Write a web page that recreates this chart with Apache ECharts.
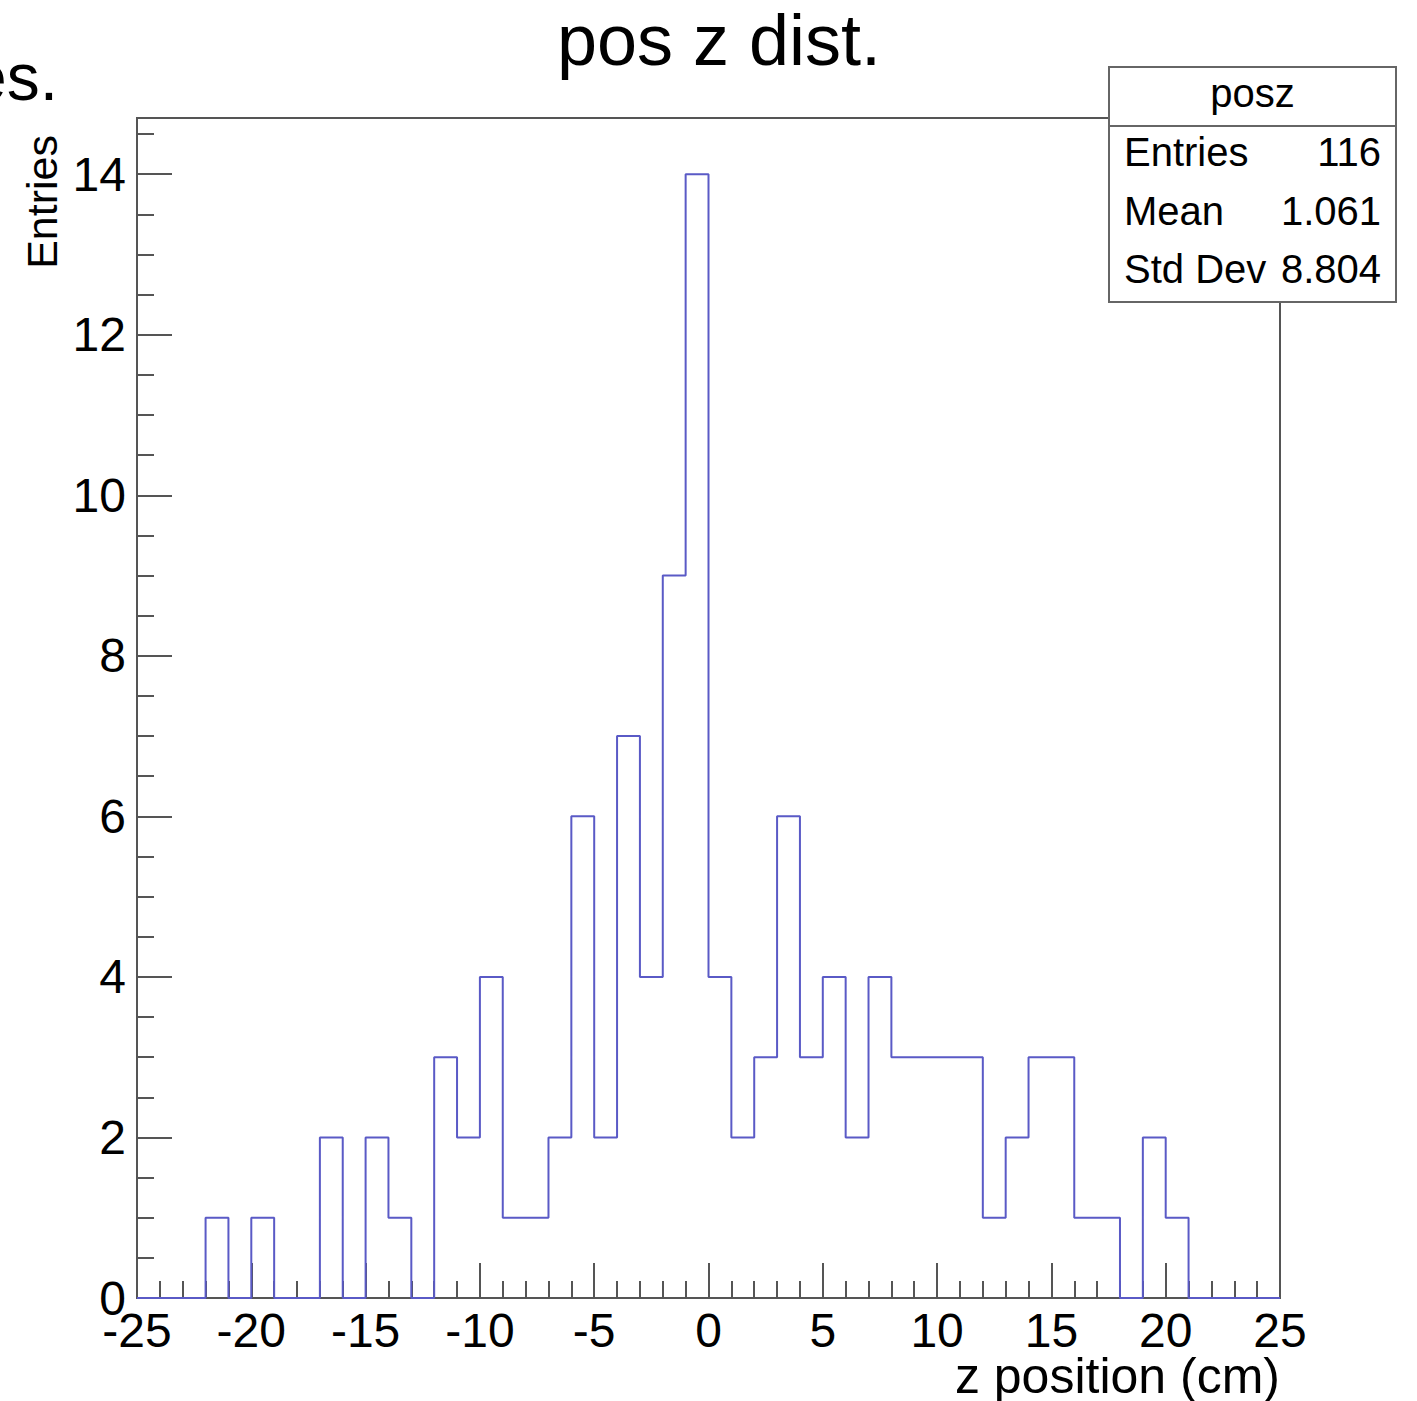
<!DOCTYPE html>
<html>
<head>
<meta charset="utf-8">
<title>pos z dist.</title>
<script src="https://cdn.jsdelivr.net/npm/echarts@6/dist/echarts.min.js"></script>
<style>
  html, body { margin: 0; padding: 0; background: #ffffff; }
  #chart { width: 1417px; height: 1401px; }
</style>
</head>
<body>
<div id="chart"></div>
<script>
// Histogram "posz": 50 bins of 1 cm from -25 to 25
const histName = 'posz';
const histTitle = 'pos z dist.';
const xTitle = 'z position (cm)';
const yTitle = 'Entries';
const binLow = -25;
const binWidth = 1;
const counts = [
  0, 0, 0, 1, 0, 1, 0, 0, 2, 0,   // -25 .. -15
  2, 1, 0, 3, 2, 4, 1, 1, 2, 6,   // -15 .. -5
  2, 7, 4, 9, 14, 4, 2, 3, 6, 3,  //  -5 ..  5
  4, 2, 4, 3, 3, 3, 3, 1, 2, 3,   //   5 .. 15
  3, 1, 1, 0, 2, 1, 0, 0, 0, 0    //  15 .. 25
];
const statLabels = ['Entries', 'Mean', 'Std Dev'];
const statValues = ['116', '1.061', '8.804'];

const FONT = '"Liberation Sans", Arial, Helvetica, sans-serif';
const LINE_COLOR = '#5a5ac6';
const FRAME_COLOR = '#555555';

// Step outline points: each bin's low edge with its content, closed at the upper edge
const outline = counts.map((c, i) => [binLow + i * binWidth, c]);
outline.push([binLow + counts.length * binWidth, counts[counts.length - 1]]);

const chart = echarts.init(document.getElementById('chart'), null, { renderer: 'svg' });

const grid = { left: 137, right: 137, top: 118, bottom: 103 };
const xMin = binLow, xMax = binLow + counts.length * binWidth;
const yMax = 14.7;

const statsBox = { x: 1109, y: 67, w: 287, h: 235, head: 59 };

const graphics = [
  // clipped fragment of a neighbouring caption
  { type: 'text', x: 58, y: 77, style: {
      text: 'es.', font: '66px ' + FONT, fill: '#000', textAlign: 'right', textVerticalAlign: 'middle' } },
  // title
  { type: 'text', x: 719, y: 40, style: {
      text: histTitle, font: '72px ' + FONT, fill: '#000', textAlign: 'center', textVerticalAlign: 'middle' } },
  // axis titles
  { type: 'text', x: 1280, y: 1376, style: {
      text: xTitle, font: '50px ' + FONT, fill: '#000', textAlign: 'right', textVerticalAlign: 'middle' } },
  { type: 'text', x: 42, y: 135, rotation: Math.PI / 2, style: {
      text: yTitle, font: '43px ' + FONT, fill: '#000', textAlign: 'right', textVerticalAlign: 'middle' } },
  // statistics box
  { type: 'rect', shape: { x: statsBox.x, y: statsBox.y, width: statsBox.w, height: statsBox.h },
    style: { fill: '#ffffff', stroke: '#666666', lineWidth: 2 }, z: 100 },
  { type: 'line', shape: { x1: statsBox.x, y1: statsBox.y + statsBox.head, x2: statsBox.x + statsBox.w, y2: statsBox.y + statsBox.head },
    style: { stroke: '#666666', lineWidth: 2 }, z: 101 },
  { type: 'text', x: statsBox.x + statsBox.w / 2, y: 93, z: 101, style: {
      text: histName, font: '40px ' + FONT, fill: '#000', textAlign: 'center', textVerticalAlign: 'middle' } }
];
statLabels.forEach((lab, i) => {
  const yy = 152 + i * 58.5;
  graphics.push({ type: 'text', x: 1124, y: yy, z: 101, style: {
    text: lab, font: '40px ' + FONT, fill: '#000', textAlign: 'left', textVerticalAlign: 'middle' } });
  graphics.push({ type: 'text', x: 1381, y: yy, z: 101, style: {
    text: statValues[i], font: '40px ' + FONT, fill: '#000', textAlign: 'right', textVerticalAlign: 'middle' } });
});

chart.setOption({
  animation: false,
  backgroundColor: '#ffffff',
  grid: Object.assign({ show: true, borderColor: FRAME_COLOR, borderWidth: 2, backgroundColor: 'transparent' }, grid),
  xAxis: {
    type: 'value', min: xMin, max: xMax, interval: 5,
    axisLine: { show: true, onZero: false, lineStyle: { color: FRAME_COLOR, width: 2 } },
    axisTick: { show: true, inside: true, length: 35, lineStyle: { color: FRAME_COLOR, width: 2 } },
    minorTick: { show: true, splitNumber: 5, length: 17, lineStyle: { color: FRAME_COLOR, width: 2 } },
    splitLine: { show: false },
    axisLabel: { show: true, margin: 8, color: '#000', fontSize: 48, fontFamily: FONT,
      showMinLabel: true, showMaxLabel: true, hideOverlap: false }
  },
  yAxis: [
    {
      type: 'value', min: 0, max: yMax, interval: 2,
      axisLine: { show: true, onZero: false, lineStyle: { color: FRAME_COLOR, width: 2 } },
      axisTick: { show: true, inside: true, length: 35, lineStyle: { color: FRAME_COLOR, width: 2 } },
      splitLine: { show: false },
      axisLabel: { show: true, margin: 11, color: '#000', fontSize: 48, fontFamily: FONT,
        padding: [0, 0, 10, 0],
        showMaxLabel: false, hideOverlap: false,
        formatter: v => (Math.abs(v % 2) < 1e-9 ? String(v) : '') }
    },
    {
      // finer ticks every 0.5 entries
      type: 'value', min: 0, max: yMax, interval: 0.5, position: 'left', offset: 0,
      axisLine: { show: false, onZero: false },
      axisTick: { show: true, inside: true, length: 17, lineStyle: { color: FRAME_COLOR, width: 2 } },
      splitLine: { show: false },
      axisLabel: { show: false }
    }
  ],
  series: [{
    type: 'line',
    step: 'end',
    data: outline,
    showSymbol: false,
    clip: false,
    lineStyle: { color: LINE_COLOR, width: 2 },
    z: 5
  }],
  graphic: graphics
});
</script>
</body>
</html>
